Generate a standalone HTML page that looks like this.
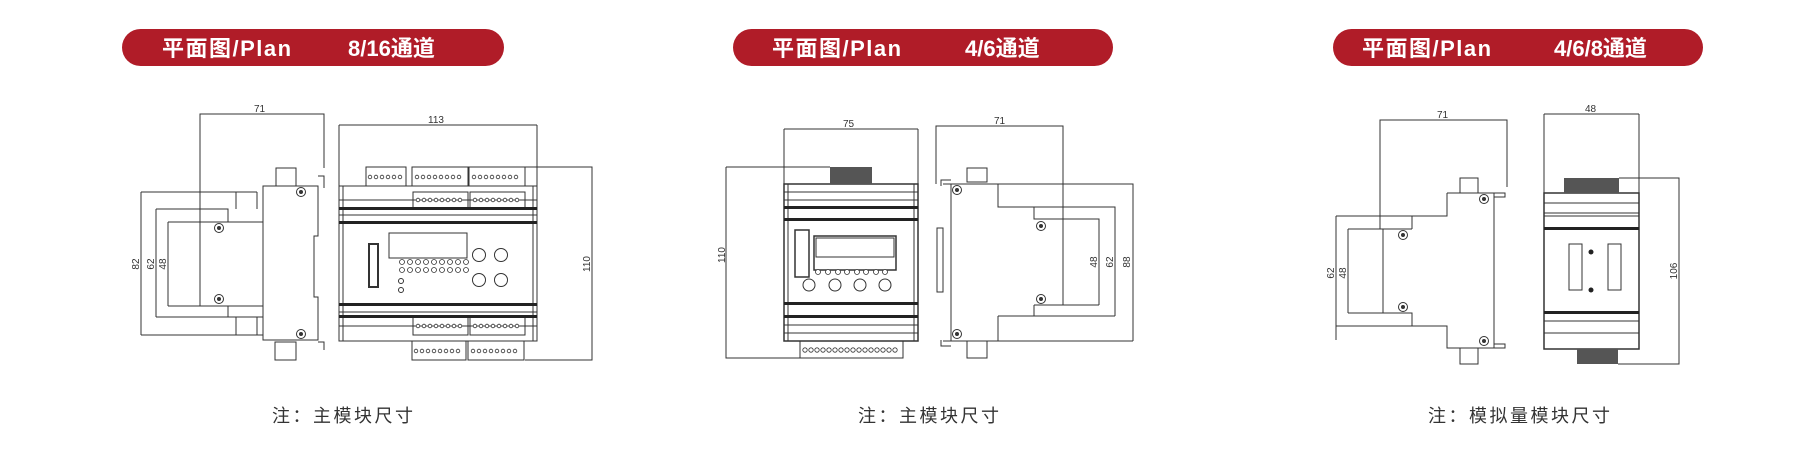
<!DOCTYPE html>
<html><head><meta charset="utf-8"><style>
html,body{margin:0;padding:0;background:#fff;width:1814px;height:454px;overflow:hidden}
svg{display:block}
.bt{font-family:"Liberation Sans","Noto Sans CJK SC",sans-serif;font-weight:bold;font-size:22px;fill:#fff}
.cap{font-family:"Liberation Sans","Noto Sans CJK SC",sans-serif;font-size:18px;fill:#333;letter-spacing:2.5px}
.d{font-family:"Liberation Sans",sans-serif;font-size:10px;fill:#333}
</style></head><body>
<svg width="1814" height="454" viewBox="0 0 1814 454" xmlns="http://www.w3.org/2000/svg">
<defs>
<g id="scr"><circle r="4.5" fill="#fff" stroke="#333" stroke-width="1"/><circle r="2" fill="#333"/></g>
</defs>
<!-- banners -->
<rect x="122" y="29" width="382" height="37" rx="18.5" fill="#b01c28"/>
<text class="bt" x="162" y="56" letter-spacing="1.5">平面图/Plan</text>
<text class="bt" x="348" y="56">8/16通道</text>
<rect x="733" y="29" width="380" height="37" rx="18.5" fill="#b01c28"/>
<text class="bt" x="772" y="56" letter-spacing="1.5">平面图/Plan</text>
<text class="bt" x="965" y="56">4/6通道</text>
<rect x="1333" y="29" width="370" height="37" rx="18.5" fill="#b01c28"/>
<text class="bt" x="1362" y="56" letter-spacing="1.5">平面图/Plan</text>
<text class="bt" x="1554" y="56">4/6/8通道</text>

<g fill="none" stroke="#333" stroke-width="1">
<!-- ===== Drawing 1 side view ===== -->
<polyline points="200,306 200,114 324,114 324,168"/>
<path d="M141,192 V335 M156,209 V317 M168,222 V306"/>
<path d="M141,192 H257 M236,192 V209 M257,192 V209 M156,209 H228 V222 M168,222 H263"/>
<path d="M168,306 H263 M228,306 V317 M156,317 H263 M236,317 V335 M257,317 V335 M141,335 H263"/>
<path d="M263,186 V340 H318 V297 H314 V236 H318 V186 Z"/>
<path d="M318,176 H324 V188 M318,342 H324 V350 M263,186 H318"/>
<rect x="276" y="168" width="20" height="18"/>
<rect x="275" y="342" width="21" height="18"/>
<!-- ===== Drawing 1 front ===== -->
<path d="M339,125 V186 M537,125 V186 M339,125 H537"/>
<rect x="339" y="186" width="198" height="155"/>
<path d="M343,186 V341 M533,186 V341"/>
<path d="M339,200 H537 M339,215 H537 M339,312 H537 M339,326 H537"/>
<rect x="366" y="167" width="40" height="19"/>
<rect x="412" y="167" width="56" height="19"/>
<rect x="469" y="167" width="56" height="19"/>
<rect x="413" y="192" width="55" height="17"/>
<rect x="470" y="192" width="55" height="17"/>
<rect x="413" y="317" width="55" height="18"/>
<rect x="470" y="317" width="55" height="18"/>
<rect x="412" y="341" width="54" height="19"/>
<rect x="468" y="341" width="56" height="19"/>
<rect x="389" y="233" width="78" height="25"/>
<rect x="369" y="244" width="9" height="43" stroke-width="2"/>
<circle cx="479" cy="255" r="6.5"/><circle cx="501" cy="255" r="6.5"/>
<circle cx="479" cy="280" r="6.5"/><circle cx="501" cy="280" r="6.5"/>
<circle cx="401" cy="281" r="2.5"/><circle cx="401" cy="290" r="2.5"/>
<path d="M525,167 H592 V360 H525"/>
<!-- ===== Drawing 2 front ===== -->
<path d="M784,129 H918 M784,129 V184 M918,129 V184"/>
<path d="M726,167 H830 M726,167 V358 H800"/>
<rect x="784" y="184" width="134" height="157" stroke-width="1.5"/>
<path d="M788,184 V341 M914,184 V341"/>
<path d="M784,192 H918 M784,200 H918 M784,325 H918 M784,333 H918"/>
<rect x="800" y="341" width="103" height="17"/>
<rect x="795" y="230" width="14" height="47" stroke-width="1.5"/>
<rect x="814" y="236" width="82" height="34" stroke-width="1.5"/>
<rect x="816" y="238" width="78" height="19"/>
<circle cx="809" cy="285" r="6"/><circle cx="835" cy="285" r="6"/><circle cx="860" cy="285" r="6"/><circle cx="885" cy="285" r="6"/>
<!-- ===== Drawing 2 side ===== -->
<path d="M936,184 V126 H1063 V305"/>
<path d="M943,184 H1133 V341 M951,184 V341 M943,341 H1133"/>
<path d="M998,184 V207 H1115 V316 M1034,207 V219 H1099 V305"/>
<path d="M1034,305 H1099 M1034,305 V316 M998,316 H1115 M998,316 V341"/>
<path d="M937,228 H943 V292 H937 Z"/>
<path d="M941,186 V180 H951 M941,340 V346 H951"/>
<rect x="967" y="168" width="20" height="14"/>
<rect x="967" y="341" width="20" height="17"/>
<!-- ===== Drawing 3 side ===== -->
<path d="M1380,229 V120 H1507 V187"/>
<path d="M1336,216 V340 M1348,229 V313"/>
<path d="M1336,216 H1412 V229 M1348,229 H1412 M1383,229 V313"/>
<path d="M1447,193 V216 H1412 M1447,193 H1505 V197 H1494"/>
<path d="M1348,313 H1412 V326 H1447 V348 H1505 V344 H1494 M1336,326 H1412"/>
<path d="M1494,193 V348"/>
<rect x="1460" y="178" width="18" height="15"/>
<rect x="1460" y="348" width="18" height="16"/>
<!-- ===== Drawing 3 front ===== -->
<path d="M1544,114 H1639 M1544,114 V193 M1639,114 V193"/>
<rect x="1544" y="193" width="95" height="156" stroke-width="1.5"/>
<path d="M1544,203 H1639 M1544,213 H1639 M1544,216 H1639 M1544,321 H1639 M1544,333 H1639"/>
<rect x="1569" y="244" width="13" height="46"/>
<rect x="1608" y="244" width="13" height="46"/>
<path d="M1619,178 H1679 V364 H1618"/>
</g>
<!-- thick bands -->
<g fill="#222">
<rect x="339" y="207" width="198" height="3"/><rect x="339" y="221" width="198" height="3"/>
<rect x="339" y="303" width="198" height="3"/><rect x="339" y="315" width="198" height="3"/>
<rect x="784" y="206" width="134" height="3"/><rect x="784" y="218" width="134" height="3"/>
<rect x="784" y="302" width="134" height="3"/><rect x="784" y="315" width="134" height="3"/>
<rect x="1544" y="227" width="95" height="3"/><rect x="1544" y="311" width="95" height="3"/>
<rect x="830" y="167" width="42" height="17" fill="#555"/>
<rect x="1564" y="178" width="55" height="15" fill="#555"/>
<rect x="1577" y="349" width="41" height="15" fill="#555"/>
<circle cx="1591" cy="252" r="2.5"/><circle cx="1591" cy="290" r="2.5"/>
</g>
<!-- terminal dots -->
<g fill="none" stroke="#333" stroke-width="0.8">
<path d="M370,177 h0" />
</g>
<g fill="#fff" stroke="#333" stroke-width="0.8">
<!-- d1 top row1 -->
<circle cx="370" cy="177" r="1.8"/><circle cx="376" cy="177" r="1.8"/><circle cx="382" cy="177" r="1.8"/><circle cx="388" cy="177" r="1.8"/><circle cx="394" cy="177" r="1.8"/><circle cx="400" cy="177" r="1.8"/>
<circle cx="417" cy="177" r="1.8"/><circle cx="423" cy="177" r="1.8"/><circle cx="429" cy="177" r="1.8"/><circle cx="435" cy="177" r="1.8"/><circle cx="441" cy="177" r="1.8"/><circle cx="447" cy="177" r="1.8"/><circle cx="453" cy="177" r="1.8"/><circle cx="459" cy="177" r="1.8"/>
<circle cx="474" cy="177" r="1.8"/><circle cx="480" cy="177" r="1.8"/><circle cx="486" cy="177" r="1.8"/><circle cx="492" cy="177" r="1.8"/><circle cx="498" cy="177" r="1.8"/><circle cx="504" cy="177" r="1.8"/><circle cx="510" cy="177" r="1.8"/><circle cx="516" cy="177" r="1.8"/>
<circle cx="418" cy="200" r="1.8"/><circle cx="424" cy="200" r="1.8"/><circle cx="430" cy="200" r="1.8"/><circle cx="436" cy="200" r="1.8"/><circle cx="442" cy="200" r="1.8"/><circle cx="448" cy="200" r="1.8"/><circle cx="454" cy="200" r="1.8"/><circle cx="460" cy="200" r="1.8"/>
<circle cx="475" cy="200" r="1.8"/><circle cx="481" cy="200" r="1.8"/><circle cx="487" cy="200" r="1.8"/><circle cx="493" cy="200" r="1.8"/><circle cx="499" cy="200" r="1.8"/><circle cx="505" cy="200" r="1.8"/><circle cx="511" cy="200" r="1.8"/><circle cx="517" cy="200" r="1.8"/>
<circle cx="418" cy="326" r="1.8"/><circle cx="424" cy="326" r="1.8"/><circle cx="430" cy="326" r="1.8"/><circle cx="436" cy="326" r="1.8"/><circle cx="442" cy="326" r="1.8"/><circle cx="448" cy="326" r="1.8"/><circle cx="454" cy="326" r="1.8"/><circle cx="460" cy="326" r="1.8"/>
<circle cx="475" cy="326" r="1.8"/><circle cx="481" cy="326" r="1.8"/><circle cx="487" cy="326" r="1.8"/><circle cx="493" cy="326" r="1.8"/><circle cx="499" cy="326" r="1.8"/><circle cx="505" cy="326" r="1.8"/><circle cx="511" cy="326" r="1.8"/><circle cx="517" cy="326" r="1.8"/>
<circle cx="416" cy="351" r="1.8"/><circle cx="422" cy="351" r="1.8"/><circle cx="428" cy="351" r="1.8"/><circle cx="434" cy="351" r="1.8"/><circle cx="440" cy="351" r="1.8"/><circle cx="446" cy="351" r="1.8"/><circle cx="452" cy="351" r="1.8"/><circle cx="458" cy="351" r="1.8"/>
<circle cx="473" cy="351" r="1.8"/><circle cx="479" cy="351" r="1.8"/><circle cx="485" cy="351" r="1.8"/><circle cx="491" cy="351" r="1.8"/><circle cx="497" cy="351" r="1.8"/><circle cx="503" cy="351" r="1.8"/><circle cx="509" cy="351" r="1.8"/><circle cx="515" cy="351" r="1.8"/>
<!-- d1 panel dots -->
<circle cx="402" cy="262" r="2.5"/><circle cx="410" cy="262" r="2.5"/><circle cx="418" cy="262" r="2.5"/><circle cx="426" cy="262" r="2.5"/><circle cx="434" cy="262" r="2.5"/><circle cx="442" cy="262" r="2.5"/><circle cx="450" cy="262" r="2.5"/><circle cx="458" cy="262" r="2.5"/><circle cx="466" cy="262" r="2.5"/>
<circle cx="402" cy="270" r="2.5"/><circle cx="410" cy="270" r="2.5"/><circle cx="418" cy="270" r="2.5"/><circle cx="426" cy="270" r="2.5"/><circle cx="434" cy="270" r="2.5"/><circle cx="442" cy="270" r="2.5"/><circle cx="450" cy="270" r="2.5"/><circle cx="458" cy="270" r="2.5"/><circle cx="466" cy="270" r="2.5"/>
<!-- d2 -->
<circle cx="818" cy="272" r="2.5"/><circle cx="828" cy="272" r="2.5"/><circle cx="838" cy="272" r="2.5"/><circle cx="847" cy="272" r="2.5"/><circle cx="857" cy="272" r="2.5"/><circle cx="866" cy="272" r="2.5"/><circle cx="876" cy="272" r="2.5"/><circle cx="885" cy="272" r="2.5"/>
<circle cx="805" cy="350" r="2.2"/><circle cx="811" cy="350" r="2.2"/><circle cx="817" cy="350" r="2.2"/><circle cx="823" cy="350" r="2.2"/><circle cx="829" cy="350" r="2.2"/><circle cx="835" cy="350" r="2.2"/><circle cx="841" cy="350" r="2.2"/><circle cx="847" cy="350" r="2.2"/><circle cx="853" cy="350" r="2.2"/><circle cx="859" cy="350" r="2.2"/><circle cx="865" cy="350" r="2.2"/><circle cx="871" cy="350" r="2.2"/><circle cx="877" cy="350" r="2.2"/><circle cx="883" cy="350" r="2.2"/><circle cx="889" cy="350" r="2.2"/><circle cx="895" cy="350" r="2.2"/>
</g>
<!-- screws -->
<use href="#scr" x="219" y="228"/><use href="#scr" x="219" y="299"/><use href="#scr" x="301" y="192"/><use href="#scr" x="301" y="334"/>
<use href="#scr" x="957" y="190"/><use href="#scr" x="1041" y="226"/><use href="#scr" x="1041" y="299"/><use href="#scr" x="957" y="334"/>
<use href="#scr" x="1403" y="235"/><use href="#scr" x="1403" y="307"/><use href="#scr" x="1484" y="199"/><use href="#scr" x="1484" y="341"/>
<!-- dim labels -->
<text class="d" x="254" y="112">71</text>
<text class="d" x="428" y="123">113</text>
<text class="d" transform="translate(139,264) rotate(-90)" text-anchor="middle">82</text>
<text class="d" transform="translate(154,264) rotate(-90)" text-anchor="middle">62</text>
<text class="d" transform="translate(166,264) rotate(-90)" text-anchor="middle">48</text>
<text class="d" transform="translate(590,264) rotate(-90)" text-anchor="middle">110</text>
<text class="d" x="843" y="127">75</text>
<text class="d" x="994" y="124">71</text>
<text class="d" transform="translate(725,255) rotate(-90)" text-anchor="middle">110</text>
<text class="d" transform="translate(1097,262) rotate(-90)" text-anchor="middle">48</text>
<text class="d" transform="translate(1113,262) rotate(-90)" text-anchor="middle">62</text>
<text class="d" transform="translate(1130,262) rotate(-90)" text-anchor="middle">88</text>
<text class="d" x="1437" y="118">71</text>
<text class="d" transform="translate(1334,273) rotate(-90)" text-anchor="middle">62</text>
<text class="d" transform="translate(1346,273) rotate(-90)" text-anchor="middle">48</text>
<text class="d" x="1585" y="112" font-size="8">48</text>
<text class="d" transform="translate(1677,271) rotate(-90)" text-anchor="middle" font-size="8">106</text>
<!-- captions -->
<text class="cap" x="272" y="422">注：主模块尺寸</text>
<text class="cap" x="858" y="422">注：主模块尺寸</text>
<text class="cap" x="1428" y="422">注：模拟量模块尺寸</text>
</svg>
</body></html>
